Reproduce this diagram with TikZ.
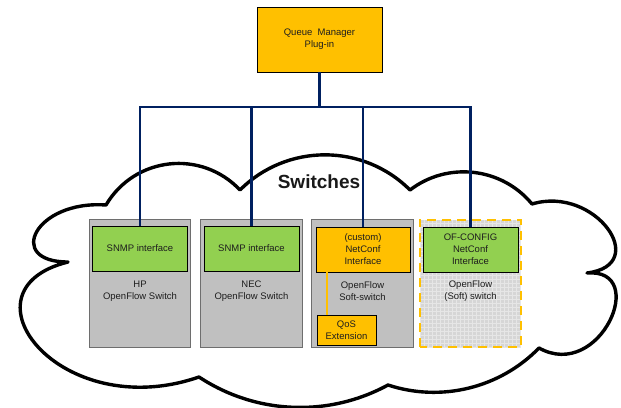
\documentclass[tikz,border=0pt]{standalone}
\usepackage{fontspec}
\setmainfont{Liberation Sans}
\usetikzlibrary{calc}
\definecolor{qorange}{RGB}{255,192,0}
\definecolor{qgreen}{RGB}{146,208,80}
\definecolor{qgray}{RGB}{192,192,192}
\definecolor{qborder}{RGB}{110,110,110}
\definecolor{qblue}{RGB}{0,32,96}
\definecolor{qtext}{RGB}{30,30,30}
\definecolor{qlight}{RGB}{214,214,214}
\definecolor{qgridline}{RGB}{230,230,230}
\begin{document}
\begin{tikzpicture}[x=1pt,y=1pt,
  txt/.style={font=\fontsize{9.5}{12}\selectfont, text=qtext, align=center},
  swbox/.style={draw=qborder, fill=qgray, line width=0.8pt, minimum width=101.5pt, minimum height=128pt, inner sep=0pt},
  ifgreen/.style={draw=black, fill=qgreen, line width=0.8pt, minimum width=95pt, minimum height=45pt, inner sep=0pt, txt},
  iforange/.style={draw=black, fill=qorange, line width=0.8pt, minimum width=94pt, minimum height=45pt, inner sep=0pt, txt},
  bus/.style={draw=qblue, line width=2.2pt},
  oline/.style={draw=qorange, line width=2pt},
  cloudline/.style={draw=black, line width=3.4pt, line join=round, line cap=round, fill=white},
  bump/.style n args={2}{out=#1, in=180-#1, relative, looseness=#2},
]
\useasboundingbox (0,0) rectangle (621,407);

% cloud
\draw[cloudline]
  (106,202) to[bump={53}{1.07}] (240,217)
  to[bump={45}{1.0}] (410,217)
  to[bump={44}{0.99}] (532,203)
  .. controls (595,222) and (652,142) .. (587,134)
  .. controls (650,139) and (600,25) .. (539,59)
  to[bump={32}{0.92}] (388,22)
  to[bump={31}{0.92}] (199,30)
  .. controls (60,-18) and (-45,117) .. (68,145)
  .. controls (5,145) and (35,207) .. (106,202)
  -- cycle;

\node[font=\fontsize{19}{22}\selectfont\bfseries, text=black!90] (title) at (319,225.5) {Switches};

% top box
\node[draw=black, fill=qorange, line width=0.8pt, minimum width=125pt, minimum height=65pt, inner sep=0pt, txt] (qm) at (319.5,367.5) {Queue\ \ Manager\\Plug-in};

% switch boxes
\node[swbox] (hp) at (140,124) {};
\node[swbox] (nec) at (251.5,124) {};
\node[swbox] (soft) at (362.5,124) {};
\node[minimum width=101pt, minimum height=127pt, inner sep=0pt, fill=qlight] (ofb) at (470.5,123.5) {};
\draw[qgridline, line width=0.5pt, step=4pt] (ofb.south west) grid (ofb.north east);
\draw[qorange, line width=1.6pt, dash pattern=on 9pt off 6pt] (ofb.south west) rectangle (ofb.north east);

% interfaces
\node[ifgreen] (hpi) at (140,158.5) {SNMP interface};
\node[ifgreen] (neci) at (251.5,158.5) {SNMP interface};
\node[iforange] (nc) at (363,157.5) {(custom)\\NetConf\\Interface};
\node[ifgreen] (ofi) at (470.5,157.5) {OF-CONFIG\\NetConf\\Interface};
\node[draw=black, fill=qorange, line width=0.8pt, minimum width=59pt, minimum height=30pt, inner sep=0pt, txt] (qos) at (346.5,77) {QoS\\Extension};

% switch labels
\node[txt] (hpt) at (140,115.5) {HP\\OpenFlow Switch};
\node[txt] (nect) at (251.5,115.5) {NEC\\OpenFlow Switch};
\node[txt] (softt) at (362.5,115.5) {OpenFlow\\Soft-switch};
\node[txt] (oft) at (470.5,115.5) {OpenFlow\\(Soft) switch};

% orange connector
\coordinate (qc) at ($(qos.north west)+(10,0)$);
\draw[oline] (qc) -- (qc |- nc.south);

% blue bus
\coordinate (bar) at (0,300);
\draw[bus] (qm.south) -- (qm.south |- bar);
\draw[bus] (hpi.north) -- (hpi.north |- bar) -- (ofi.north |- bar) -- (ofi.north);
\draw[bus] (neci.north |- bar) -- (neci.north);
\draw[bus] (nc.north |- bar) -- (nc.north);
\end{tikzpicture}
\end{document}
